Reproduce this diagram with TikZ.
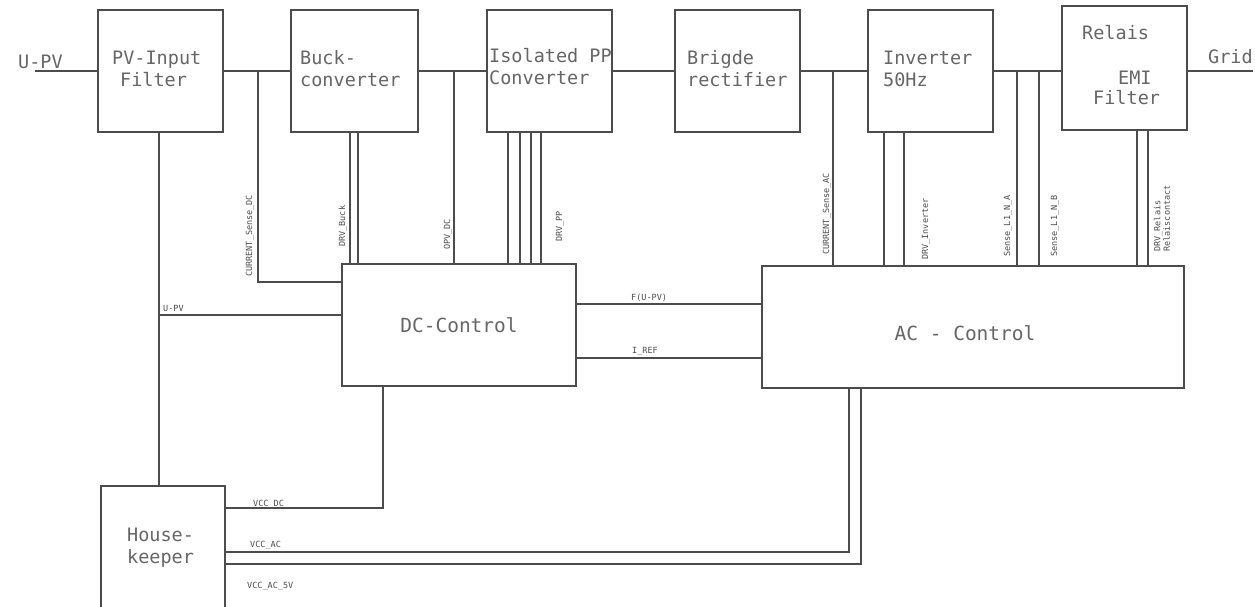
\documentclass[tikz,border=0pt]{standalone}
\usepackage{fontspec}
\newfontfamily\cadfont{DejaVu Sans Mono}
\usetikzlibrary{calc}
\tikzset{block/.style={rectangle, draw=black!70, line width=1.2pt, inner sep=0pt}}
\tikzset{wire/.style={draw=black!70, line width=1.2pt}}
\tikzset{title/.style={font=\cadfont\fontsize{18.5}{22}\selectfont, text=black!60, inner sep=0pt, align=left, anchor=west}}
\tikzset{ctrl/.style={font=\cadfont\fontsize{19.5}{22}\selectfont, text=black!60, inner sep=0pt}}
\tikzset{signal/.style={font=\cadfont\fontsize{8.5}{9.5}\selectfont, text=black!70, inner sep=0pt, align=left, anchor=west}}
\tikzset{vsignal/.style={signal, rotate=90}}

\begin{document}
\begin{tikzpicture}[x=1pt,y=-1pt]
%block diagram of the PV inverter: power path on top, control and supply below
\useasboundingbox (0,0) rectangle (1255,607);
\node (pv) at (160.5,71)[block, minimum width=125, minimum height=122]{};
\node (buck) at (354.5,71)[block, minimum width=127, minimum height=122]{};
\node (iso) at (549.5,71)[block, minimum width=125, minimum height=122]{};
\node (rect) at (737.5,71)[block, minimum width=125, minimum height=122]{};
\node (inv) at (930.5,71)[block, minimum width=125, minimum height=122]{};
\node (emi) at (1124.5,68)[block, minimum width=125, minimum height=124]{};
\node (dc) at (459,325)[block, minimum width=234, minimum height=122]{};
\node (ac) at (973,327)[block, minimum width=422, minimum height=122]{};
\node (hk) at (163,547)[block, minimum width=124, minimum height=122]{};
\coordinate (upvin) at (35,71);
\coordinate (grid) at (1253,71);
\coordinate (csdc) at (258,282);
\coordinate (opv) at (454,0);
\coordinate (csac) at (833,0);
\coordinate (sna) at (1017,0);
\coordinate (snb) at (1039,0);
\coordinate (upv) at (159,315);
\coordinate (fupv) at (0,304);
\coordinate (iref) at (0,358);
\coordinate (vdc) at (383,508);
\coordinate (vac) at (849,552);
\coordinate (vacf) at (861,564);
%power path
\draw[wire] (upvin)--(pv.west);
\draw[wire] (pv.east)--(buck.west);
\draw[wire] (buck.east)--(iso.west);
\draw[wire] (iso.east)--(rect.west);
\draw[wire] (rect.east)--(inv.west);
\draw[wire] (inv.east)--(inv.east -| emi.west);
\draw[wire] (emi.east |- grid)--(grid);
%sense and drive lines
\draw[wire] (csdc |- pv.east)--(csdc)--(csdc -| dc.west);
\draw[wire] (opv |- buck.east)--(opv |- dc.north);
\draw[wire] (csac |- rect.east)--(csac |- ac.north);
\draw[wire] (sna |- inv.east)--(sna |- ac.north);
\draw[wire] (snb |- inv.east)--(snb |- ac.north);
\foreach \dx in {-4.5,3.5}
  \draw[wire] ($(buck.south)+(\dx,0)$)--($(buck.south |- dc.north)+(\dx,0)$);
\foreach \dx in {-41.5,-29.5,-18.5,-8.5}
  \draw[wire] ($(iso.south)+(\dx,0)$)--($(iso.south |- dc.north)+(\dx,0)$);
\foreach \dx in {-46.5,-26.5}
  \draw[wire] ($(inv.south)+(\dx,0)$)--($(inv.south |- ac.north)+(\dx,0)$);
\foreach \dx in {12.5,23.5}
  \draw[wire] ($(emi.south)+(\dx,0)$)--($(emi.south |- ac.north)+(\dx,0)$);
\draw[wire] ($(pv.south)+(-1.5,0)$)--($(pv.south |- hk.north)+(-1.5,0)$);
\draw[wire] (upv)--(upv -| dc.west);
\draw[wire] (dc.east |- fupv)--(ac.west |- fupv);
\draw[wire] (dc.east |- iref)--(ac.west |- iref);
%supply lines
\draw[wire] (hk.east |- vdc)--(vdc)--(vdc |- dc.south);
\draw[wire] (hk.east |- vac)--(vac)--(vac |- ac.south);
\draw[wire] (hk.east |- vacf)--(vacf)--(vacf |- ac.south);
%block texts
\node (tupv) at (18,62)[title]{U-PV};
\node (tpv) at (112,69)[title]{PV-Input\\\hspace*{8pt}Filter};
\node (tbuck) at (300,69)[title]{Buck-\\converter};
\node (tiso) at (489,67)[title]{Isolated PP\\Converter};
\node (trect) at (687,69)[title]{Brigde\\rectifier};
\node (tinv) at (883,69)[title]{Inverter\\50Hz};
\node (trel) at (1082,33)[title]{Relais};
\node (temi) at (1118,78)[title]{EMI};
\node (tfilt) at (1093,98)[title]{Filter};
\node (tgrid) at (1208,57)[title]{Grid};
\node (thk) at (127,548)[title]{House-\\keeper};
\node (tdc) at (459,325)[ctrl]{DC-Control};
\node (tac) at (965,333)[ctrl]{AC - Control};
%signal names
\node (lupv) at (163,308)[signal]{U-PV};
\node (lfupv) at (631,298)[signal]{F(U-PV)};
\node (liref) at (632,351)[signal]{I\_REF};
\node (lvdc) at (253,504)[signal]{VCC\_DC};
\node (lvac) at (250,545)[signal]{VCC\_AC};
\node (lvacf) at (247,586)[signal]{VCC\_AC\_5V};
\node (lcsdc) at (250,277)[vsignal]{CURRENT\_Sense\_DC};
\node (lbuck) at (343,247)[vsignal]{DRV\_Buck};
\node (lopv) at (448,250)[vsignal]{OPV\_DC};
\node (lpp) at (560,242)[vsignal]{DRV\_PP};
\node (lcsac) at (827,255)[vsignal]{CURRENT\_Sense\_AC};
\node (linv) at (926,260)[vsignal]{DRV\_Inverter};
\node (lsna) at (1008,257)[vsignal]{Sense\_L1\_N\_A};
\node (lsnb) at (1055,257)[vsignal]{Sense\_L1\_N\_B};
\node (lrel) at (1162,252)[vsignal]{DRV\_Relais\\Relaiscontact};
\end{tikzpicture}
\end{document}
